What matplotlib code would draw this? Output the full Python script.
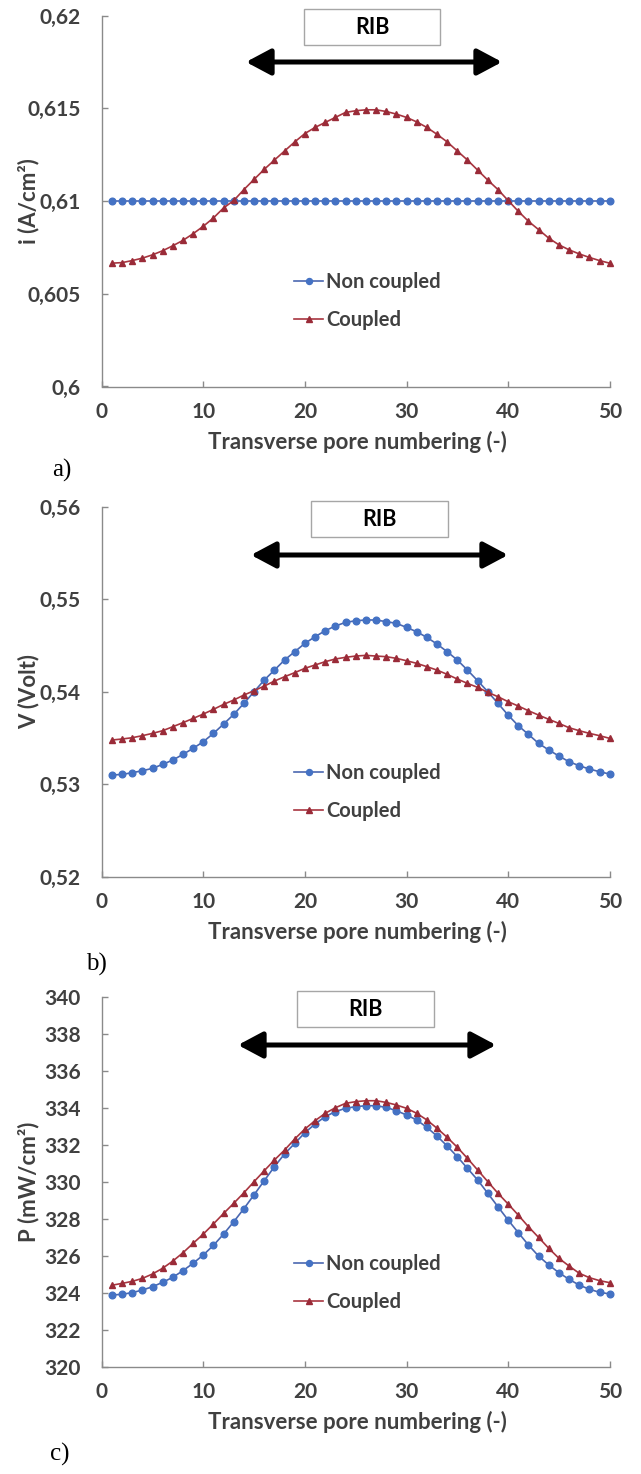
import matplotlib
matplotlib.use("Agg")
import matplotlib.pyplot as plt
from matplotlib.patches import Rectangle, FancyArrowPatch
from matplotlib.ticker import FuncFormatter, MultipleLocator

# ---------------- data ----------------
pore = list(range(1, 51))

i_noncoupled = [0.610, 0.610, 0.610, 0.610, 0.610, 0.610, 0.610, 0.610, 0.610, 0.610,
                0.610, 0.610, 0.610, 0.610, 0.610, 0.610, 0.610, 0.610, 0.610, 0.610,
                0.610, 0.610, 0.610, 0.610, 0.610, 0.610, 0.610, 0.610, 0.610, 0.610,
                0.610, 0.610, 0.610, 0.610, 0.610, 0.610, 0.610, 0.610, 0.610, 0.610,
                0.610, 0.610, 0.610, 0.610, 0.610, 0.610, 0.610, 0.610, 0.610, 0.610]
i_coupled = [0.60665, 0.60668, 0.60679, 0.60692, 0.60710, 0.60732, 0.60759, 0.60788, 0.60824, 0.60864,
             0.60909, 0.60963, 0.61003, 0.61062, 0.61117, 0.61171, 0.61221, 0.61270, 0.61319, 0.61364,
             0.61397, 0.61424, 0.61451, 0.61478, 0.61487, 0.61492, 0.61492, 0.61483, 0.61469, 0.61451,
             0.61427, 0.61397, 0.61360, 0.61319, 0.61270, 0.61221, 0.61167, 0.61113, 0.61062, 0.61003,
             0.60945, 0.60891, 0.60846, 0.60800, 0.60764, 0.60737, 0.60715, 0.60696, 0.60679, 0.60665]

v_noncoupled = [0.53098, 0.53105, 0.53123, 0.53145, 0.53170, 0.53214, 0.53260, 0.53322, 0.53387, 0.53459,
                0.53549, 0.53650, 0.53755, 0.53874, 0.54000, 0.54126, 0.54234, 0.54343, 0.54433, 0.54523,
                0.54595, 0.54660, 0.54711, 0.54750, 0.54768, 0.54776, 0.54776, 0.54758, 0.54740, 0.54696,
                0.54649, 0.54588, 0.54516, 0.54433, 0.54343, 0.54234, 0.54119, 0.54000, 0.53874, 0.53747,
                0.53632, 0.53538, 0.53441, 0.53369, 0.53304, 0.53242, 0.53199, 0.53163, 0.53134, 0.53109]
v_coupled = [0.53477, 0.53488, 0.53502, 0.53524, 0.53549, 0.53578, 0.53621, 0.53665, 0.53711, 0.53758,
             0.53809, 0.53863, 0.53910, 0.53964, 0.54011, 0.54061, 0.54115, 0.54162, 0.54206, 0.54253,
             0.54289, 0.54325, 0.54354, 0.54372, 0.54386, 0.54393, 0.54386, 0.54379, 0.54361, 0.54335,
             0.54307, 0.54271, 0.54234, 0.54188, 0.54137, 0.54090, 0.54047, 0.53993, 0.53946, 0.53892,
             0.53845, 0.53794, 0.53747, 0.53701, 0.53657, 0.53610, 0.53578, 0.53549, 0.53524, 0.53495]

p_noncoupled = [323.88, 323.92, 324.01, 324.15, 324.33, 324.57, 324.84, 325.20, 325.60, 326.05,
                326.57, 327.18, 327.85, 328.56, 329.31, 330.07, 330.83, 331.52, 332.09, 332.67,
                333.14, 333.54, 333.81, 333.99, 334.08, 334.13, 334.13, 334.04, 333.86, 333.63,
                333.36, 332.96, 332.49, 331.95, 331.37, 330.74, 330.11, 329.39, 328.66, 327.94,
                327.26, 326.59, 325.99, 325.51, 325.09, 324.73, 324.42, 324.19, 324.03, 323.94]
p_coupled = [324.41, 324.51, 324.62, 324.78, 325.02, 325.33, 325.72, 326.17, 326.68, 327.18,
             327.73, 328.30, 328.85, 329.42, 330.02, 330.61, 331.19, 331.73, 332.33, 332.87,
             333.32, 333.72, 334.02, 334.26, 334.35, 334.40, 334.40, 334.31, 334.17, 333.99,
             333.72, 333.36, 332.91, 332.42, 331.88, 331.28, 330.65, 330.02, 329.39, 328.81,
             328.21, 327.58, 327.00, 326.41, 325.87, 325.45, 325.06, 324.82, 324.66, 324.55]

series_labels = ["Non coupled", "Coupled"]
x_label = "Transverse pore numbering (-)"
y_labels = ["i (A/cm²)", "V (Volt)", "P (mW/cm²)"]
panel_tags = ["a)", "b)", "c)"]
box_text = "RIB"
y_limits = [(0.60, 0.62), (0.52, 0.56), (320, 340)]
y_steps = [0.005, 0.01, 2]

# ---------------- style ----------------
W, H = 641, 1474
FONT = ["Lato", "DejaVu Sans"]
GRAY = "#404040"
AXC = "#8a8a8a"
BLUE_M = "#4472C4"
BLUE_L = "#4a67b0"
RED_M = "#9a2b38"
RED_L = "#a8353f"

plt.rcParams["font.family"] = FONT
plt.rcParams["font.weight"] = "bold"

fig = plt.figure(figsize=(W / 100, H / 100), dpi=100)
fig.patch.set_facecolor("white")


def fx(px):
    return px / W


def fy(py):
    return 1 - py / H


# axes boxes in pixel coordinates: (left, top, right, bottom)
ax_boxes = [(101.7, 15.6, 609.7, 386.5),
            (101.7, 506.9, 609.7, 876.5),
            (101.7, 997.3, 609.7, 1366.7)]
rib_boxes = [(304, 9, 440, 45), (311, 501, 448, 537), (297, 991, 434, 1027)]
arrows = [(246, 502, 62), (251, 508, 555), (238, 496, 1045)]
tag_pos = [(62, 470), (96, 964), (60, 1454)]

datasets = [(i_noncoupled, i_coupled), (v_noncoupled, v_coupled), (p_noncoupled, p_coupled)]


def comma_fmt(v, pos):
    s = ("%.4f" % v).rstrip("0").rstrip(".")
    return s.replace(".", ",")


for k in range(3):
    l, t, r, b = ax_boxes[k]
    ax = fig.add_axes([fx(l), fy(b), (r - l) / W, (b - t) / H])
    nc, cp = datasets[k]
    ax.plot(pore, nc, color=BLUE_L, lw=1.2, marker="o", ms=4.8,
            mfc=BLUE_M, mec=BLUE_M, label=series_labels[0], zorder=3)
    ax.plot(pore, cp, color=RED_L, lw=1.2, marker="^", ms=4.8,
            mfc=RED_M, mec=RED_M, label=series_labels[1], zorder=4)
    ax.set_xlim(0, 50)
    ax.set_ylim(*y_limits[k])
    ax.xaxis.set_major_locator(MultipleLocator(10))
    ax.yaxis.set_major_locator(MultipleLocator(y_steps[k]))
    if k < 2:
        ax.yaxis.set_major_formatter(FuncFormatter(comma_fmt))
    else:
        ax.yaxis.set_major_formatter(FuncFormatter(lambda v, p: "%d" % round(v)))
    for s in ["top", "right"]:
        ax.spines[s].set_visible(False)
    for s in ["left", "bottom"]:
        ax.spines[s].set_color(AXC)
        ax.spines[s].set_linewidth(1.0)
    ax.tick_params(direction="in", length=4.5, width=1.0, color=AXC,
                   labelsize=15, labelcolor=GRAY)
    ax.tick_params(axis="y", pad=15)
    ax.tick_params(axis="x", pad=11)
    for lab in ax.get_xticklabels() + ax.get_yticklabels():
        lab.set_fontweight("bold")
    ax.set_facecolor("none")
    for ln in ax.lines:
        ln.set_clip_on(False)

    leg = ax.legend(loc="center left", bbox_to_anchor=((294 - l) / (r - l), (b - ((t + 264) + 21.5)) / (b - t)),
                    frameon=False, fontsize=14.5, handlelength=1.45, handletextpad=0.15,
                    labelspacing=0.9, borderpad=0, borderaxespad=0, markerscale=0.9)
    for txt in leg.get_texts():
        txt.set_color(GRAY)
        txt.set_fontweight("bold")

    # axis titles
    fig.text(fx((l + r) / 2 + 2), fy(b + 55), x_label, ha="center", va="center",
             fontsize=16, color=GRAY, fontweight="bold")
    fig.text(fx(29), fy((t + b) / 2), y_labels[k], ha="center", va="center",
             rotation=90, fontsize=16, color=GRAY, fontweight="bold")

    # RIB box
    bl, bt, br, bb = rib_boxes[k]
    fig.add_artist(Rectangle((fx(bl), fy(bb)), (br - bl) / W, (bb - bt) / H,
                             transform=fig.transFigure, facecolor="white",
                             edgecolor="#a6a6a6", lw=1.0))
    fig.text(fx((bl + br) / 2), fy((bt + bb) / 2), box_text, ha="center", va="center",
             fontsize=15.5, color="black", fontweight="bold")

    # double-headed arrow
    a0, a1, ay = arrows[k]
    fig.add_artist(FancyArrowPatch((fx(a0), fy(ay)), (fx(a1), fy(ay)),
                                   transform=fig.transFigure,
                                   arrowstyle="<|-|>,head_length=0.75,head_width=0.4",
                                   mutation_scale=20, lw=3.6, color="black",
                                   shrinkA=0, shrinkB=0))

    # panel tag
    tx, ty = tag_pos[k]
    fig.text(fx(tx), fy(ty), panel_tags[k], ha="center", va="center",
             fontsize=18, color="black", family=["Liberation Serif", "DejaVu Serif"],
             fontweight="normal")

fig.savefig("out.png", dpi=100, facecolor="white")
